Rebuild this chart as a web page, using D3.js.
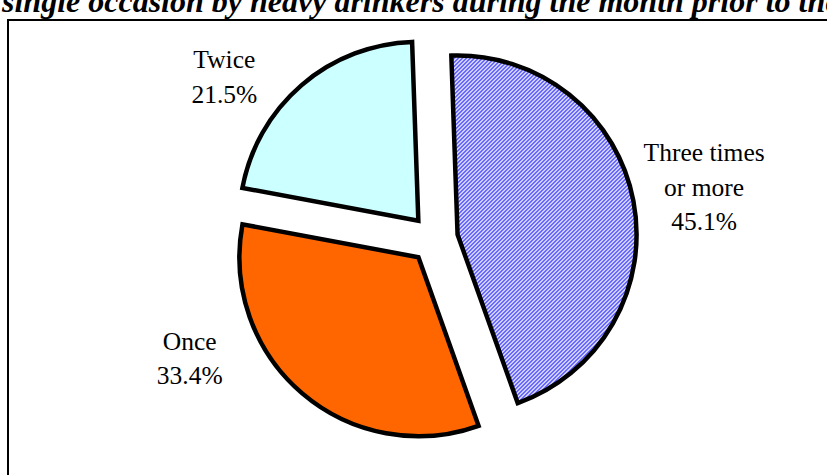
<!DOCTYPE html>
<html lang="en"><head>
<meta charset="utf-8"/>
<title>Binge drinking frequency</title>
<script src="https://d3js.org/d3.v7.min.js"></script>
<style>
    body { margin: 0; padding: 0; width: 827px; height: 475px; overflow: hidden; background: #fff; }
    svg text { font-family: "Liberation Serif", "Times New Roman", serif; fill: #000; }
    .title { font-size: 32px; font-weight: bold; font-style: italic; }
    .label { font-size: 25.5px; }
</style>
</head>
<body>
<div id="chart"></div>
<script>
    // Data
    const categories = ["Three times or more", "Once", "Twice"];
    const labelLines = [["Three times", "or more"], ["Once"], ["Twice"]];
    const values = [45.1, 33.4, 21.5];
    const valueLabels = ["45.1%", "33.4%", "21.5%"];

    // Styles / layout
    const sliceFills = ["url(#hatch)", "#FF6600", "#CCFFFF"];
    const labelAngle = [79.2, 243.9, 307.7];   // degrees, clockwise from 12 o'clock
    const labelRadius = [275, 272, 265];
    const W = 827, H = 475;
    const cx = 434, cy = 239, R = 179, explode = 24;
    const startDeg = -2;
    const rad = Math.PI / 180;

    const svg = d3.select("#chart").append("svg")
        .attr("width", W).attr("height", H);

    // fine diagonal hatch for the first slice
    const pat = svg.append("defs").append("pattern")
        .attr("id", "hatch")
        .attr("patternUnits", "userSpaceOnUse")
        .attr("width", 4).attr("height", 4);
    pat.append("rect").attr("width", 4).attr("height", 4).attr("fill", "#fff");
    [[0, 3], [1, 2], [2, 1], [3, 0], [1, 3], [2, 2], [3, 1], [0, 0]].forEach(p => {
        pat.append("rect").attr("x", p[0]).attr("y", p[1])
            .attr("width", 1).attr("height", 1).attr("fill", "#3838FF");
    });

    // title (cut off by the top of the picture, as in the source)
    svg.append("text")
        .attr("class", "title")
        .attr("x", 2).attr("y", 12)
        .text("single occasion by heavy drinkers during the month prior to the");

    // frame
    svg.append("rect")
        .attr("x", 8).attr("y", 20)
        .attr("width", W + 20).attr("height", H + 20)
        .attr("fill", "none").attr("stroke", "#000").attr("stroke-width", 2);

    const pie = d3.pie().sort(null).value(d => d)
        .startAngle(startDeg * rad).endAngle((360 + startDeg) * rad);
    const arc = d3.arc().innerRadius(0).outerRadius(R);

    const arcs = pie(values);

    const g = svg.append("g").attr("transform", `translate(${cx},${cy})`);

    g.selectAll("path.slice")
        .data(arcs)
        .enter()
        .append("path")
        .attr("class", "slice")
        .attr("transform", d => {
            const mid = (d.startAngle + d.endAngle) / 2;
            return `translate(${explode * Math.sin(mid)},${-explode * Math.cos(mid)})`;
        })
        .attr("d", arc)
        .attr("fill", (d, i) => sliceFills[i])
        .attr("stroke", "#000")
        .attr("stroke-width", 4.5)
        .attr("stroke-linejoin", "miter");

    // labels
    const lineGap = 34.5;
    arcs.forEach((d, i) => {
        const a = labelAngle[i] * rad;
        const lx = labelRadius[i] * Math.sin(a);
        const ly = -labelRadius[i] * Math.cos(a);
        const lines = labelLines[i].concat([valueLabels[i]]);
        const t = g.append("text")
            .attr("class", "label")
            .attr("text-anchor", "middle");
        lines.forEach((s, j) => {
            t.append("tspan")
                .attr("x", lx)
                .attr("y", ly + (j - (lines.length - 1) / 2) * lineGap + 8.5)
                .text(s);
        });
    });
</script>
</body></html>
